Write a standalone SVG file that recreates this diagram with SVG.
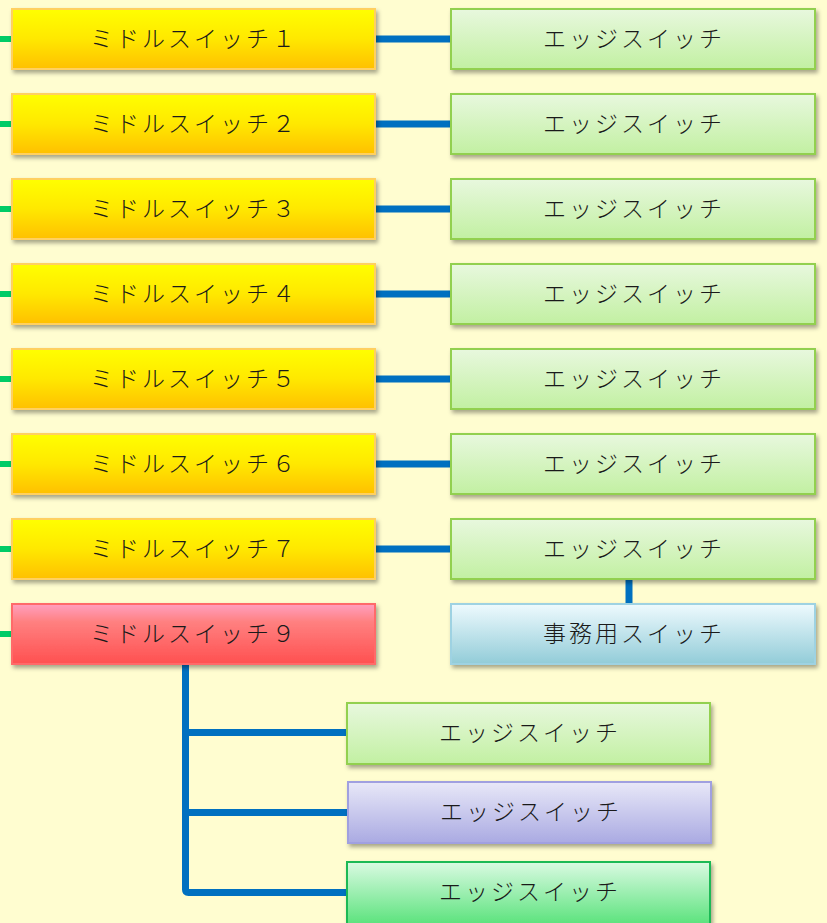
<svg xmlns="http://www.w3.org/2000/svg" width="827" height="923" viewBox="0 0 827 923">
<defs>
<linearGradient id="gY" x1="0" y1="0" x2="0" y2="1"><stop offset="0" stop-color="#FFFF00"/><stop offset="0.5" stop-color="#FFE800"/><stop offset="1" stop-color="#FFC000"/></linearGradient>
<linearGradient id="gG" x1="0" y1="0" x2="0" y2="1"><stop offset="0" stop-color="#E8F8DE"/><stop offset="1" stop-color="#C2F0A2"/></linearGradient>
<linearGradient id="gB" x1="0" y1="0" x2="0" y2="1"><stop offset="0" stop-color="#EEFAFE"/><stop offset="1" stop-color="#92CCD8"/></linearGradient>
<linearGradient id="gR" x1="0" y1="0" x2="0" y2="1"><stop offset="0" stop-color="#FFA0C0"/><stop offset="0.3" stop-color="#FF8080"/><stop offset="1" stop-color="#FF5050"/></linearGradient>
<linearGradient id="gP" x1="0" y1="0" x2="0" y2="1"><stop offset="0" stop-color="#E8E8F8"/><stop offset="1" stop-color="#AAAAE2"/></linearGradient>
<linearGradient id="gE" x1="0" y1="0" x2="0" y2="1"><stop offset="0" stop-color="#DAFAE2"/><stop offset="1" stop-color="#58E27A"/></linearGradient>
<filter id="sh" x="-5%" y="-20%" width="112%" height="150%"><feDropShadow dx="2" dy="3" stdDeviation="2" flood-color="#000" flood-opacity="0.35"/></filter>
</defs>
<style>
text{font-family:"Noto Sans CJK JP","Noto Sans CJK SC",sans-serif;font-size:23px;font-weight:300;fill:#1a1a1a;text-anchor:middle;letter-spacing:3px}
.box{stroke-width:2;filter:url(#sh)}
.mid{fill:url(#gY);stroke:#FFD060}
.edge{fill:url(#gG);stroke:#92D050}
.off{fill:url(#gB);stroke:#9ED2E2}
.red{fill:url(#gR);stroke:#FF6A6A}
.pur{fill:url(#gP);stroke:#A0A0E0}
.grn{fill:url(#gE);stroke:#1DB954}
.bl{stroke:#0070C0;stroke-width:7;fill:none}
.gs{stroke:#00CC66;stroke-width:6;fill:none}
</style>
<rect width="827" height="923" fill="#FFFDD0"/>
<g id="connectors">
<path class="gs" d="M0 39H12M0 124H12M0 209H12M0 294H12M0 379H12M0 464H12M0 549H12M0 634H12"/>
<path class="bl" d="M375 39H451M375 124H451M375 209H451M375 294H451M375 379H451M375 464H451M375 549H451"/>
<path class="bl" d="M629 579V604"/>
<path class="bl" d="M185.5 664V889.5Q185.5 892.5 188.5 892.5H347M185.5 732.5H347M185.5 812.5H347"/>
</g>
<g id="mid1"><rect class="box mid" x="12" y="9" width="363" height="60"/><text x="194" y="47">ミドルスイッチ１</text></g>
<g id="mid2"><rect class="box mid" x="12" y="94" width="363" height="60"/><text x="194" y="132">ミドルスイッチ２</text></g>
<g id="mid3"><rect class="box mid" x="12" y="179" width="363" height="60"/><text x="194" y="217">ミドルスイッチ３</text></g>
<g id="mid4"><rect class="box mid" x="12" y="264" width="363" height="60"/><text x="194" y="302">ミドルスイッチ４</text></g>
<g id="mid5"><rect class="box mid" x="12" y="349" width="363" height="60"/><text x="194" y="387">ミドルスイッチ５</text></g>
<g id="mid6"><rect class="box mid" x="12" y="434" width="363" height="60"/><text x="194" y="472">ミドルスイッチ６</text></g>
<g id="mid7"><rect class="box mid" x="12" y="519" width="363" height="60"/><text x="194" y="557">ミドルスイッチ７</text></g>
<g id="mid9"><rect class="box red" x="12" y="604" width="363" height="60"/><text x="194" y="642">ミドルスイッチ９</text></g>
<g id="edge1"><rect class="box edge" x="451" y="9" width="364" height="60"/><text x="634" y="47">エッジスイッチ</text></g>
<g id="edge2"><rect class="box edge" x="451" y="94" width="364" height="60"/><text x="634" y="132">エッジスイッチ</text></g>
<g id="edge3"><rect class="box edge" x="451" y="179" width="364" height="60"/><text x="634" y="217">エッジスイッチ</text></g>
<g id="edge4"><rect class="box edge" x="451" y="264" width="364" height="60"/><text x="634" y="302">エッジスイッチ</text></g>
<g id="edge5"><rect class="box edge" x="451" y="349" width="364" height="60"/><text x="634" y="387">エッジスイッチ</text></g>
<g id="edge6"><rect class="box edge" x="451" y="434" width="364" height="60"/><text x="634" y="472">エッジスイッチ</text></g>
<g id="edge7"><rect class="box edge" x="451" y="519" width="364" height="60"/><text x="634" y="557">エッジスイッチ</text></g>
<g id="office"><rect class="box off" x="451" y="604" width="364" height="60"/><text x="634" y="642">事務用スイッチ</text></g>
<g id="edge9a"><rect class="box edge" x="347" y="703" width="363" height="61"/><text x="530" y="741">エッジスイッチ</text></g>
<g id="edge9b"><rect class="box pur" x="348" y="782" width="363" height="61"/><text x="531" y="820">エッジスイッチ</text></g>
<g id="edge9c"><rect class="box grn" x="347" y="862" width="363" height="64"/><text x="530" y="900">エッジスイッチ</text></g>
</svg>
